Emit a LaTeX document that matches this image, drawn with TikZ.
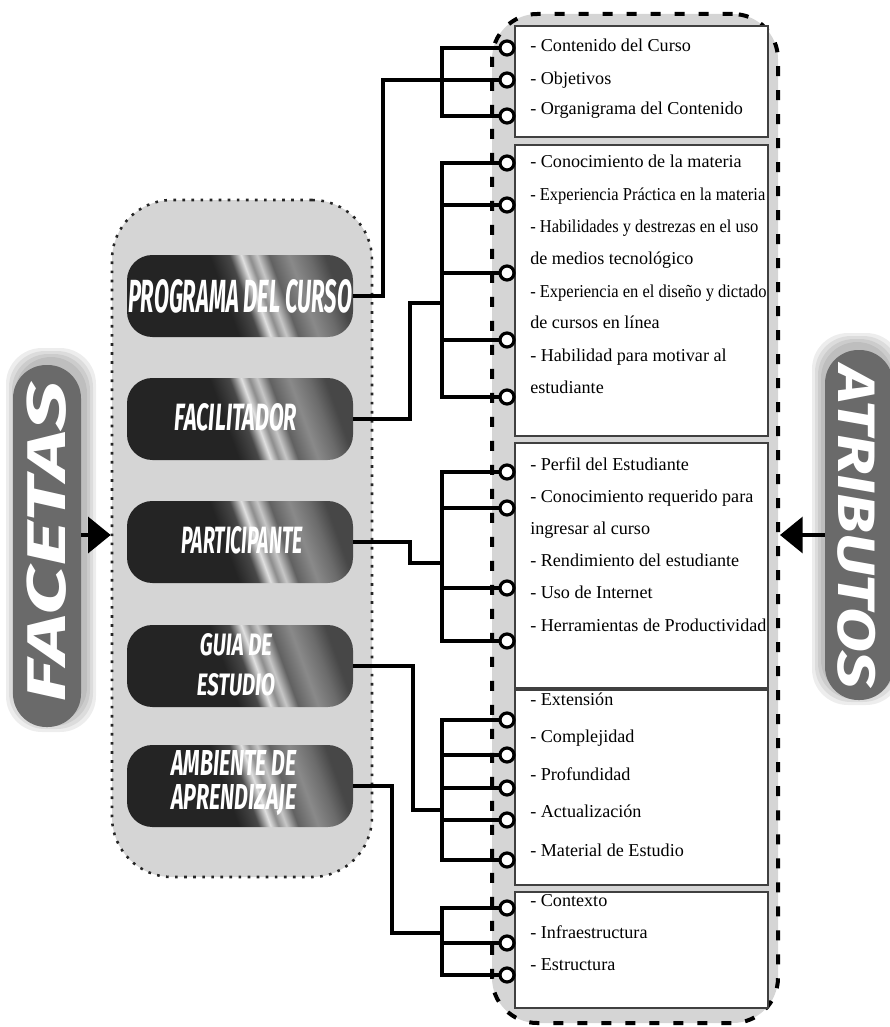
\documentclass[tikz,border=0pt]{standalone}
\usepackage{fontspec}
\setmainfont{Liberation Serif}
\newfontfamily\ttlfont{Fira Sans}
\usepackage{graphicx}
\usetikzlibrary{arrows.meta}
\definecolor{bgg}{HTML}{D5D5D5}
\definecolor{pdark}{HTML}{242424}
\definecolor{pillg}{HTML}{6A6A6A}
\pgfdeclarehorizontalshading{pillshade}{100bp}{color(0bp)=(pdark); color(46bp)=(pdark); color(51bp)=(black!72); color(54bp)=(black!12); color(56bp)=(black!45); color(58bp)=(black!22); color(61bp)=(black!62); color(66bp)=(black!46); color(71bp)=(black!58); color(75bp)=(black!72); color(100bp)=(black!72)}
\newcommand\ptxt[3]{\resizebox{#1}{#2}{\ttlfont\bfseries\itshape #3}}
\newcommand\sqz[1]{\scalebox{0.91}[1]{#1}}
\tikzset{
 grp/.style={fill=bgg, inner sep=0pt},
 lgrp/.style={grp, draw=black!85, line width=1.9pt, dash pattern=on 2pt off 4.8pt, rounded corners=45pt, minimum width=195pt, minimum height=507.75pt},
 rgrp/.style={grp, draw=black, line width=3pt, dash pattern=on 7.5pt off 10.5pt, rounded corners=34pt, minimum width=214.5pt, minimum height=756.75pt},
 wbox/.style={draw=black!75, line width=1.1pt, fill=white, inner sep=0pt, minimum width=189.75pt},
 itm/.style={anchor=west, inner sep=0pt, font=\fontsize{13.6pt}{16pt}\selectfont, text height=0.68em, text depth=0pt},
 pill/.style={shading=pillshade, shading angle=20, rounded corners=19pt, minimum width=169.5pt, minimum height=61.5pt, inner sep=0pt},
 ttl/.style={text=white, inner sep=0pt},
 circ/.style={circle, minimum size=10.5pt, inner sep=0pt},
 ring/.style={draw=black, line width=2.4pt, fill=white},
 br/.style={draw=black, line width=3pt},
 mc/.style={draw=black, line width=2.6pt},
 bigpill/.style={fill=pillg, rounded corners=25pt, minimum width=51pt, inner sep=0pt},
 arr/.style={line width=2.6pt, -{Triangle[length=17pt,width=27pt]}},
}
\begin{document}
\begin{tikzpicture}[x=0.75pt,y=-0.75pt]
\useasboundingbox (0,0) rectangle (889,1027);
% group backgrounds
\node[lgrp] (lrect) at (242,538.5) {};
\node[rgrp] (rrect) at (635,518.5) {};
% white boxes
\node[wbox, minimum height=83.25pt] (b1) at (641.5,81.5) {};
\node[wbox, minimum height=218.25pt] (b2) at (641.5,290.5) {};
\node[wbox, minimum height=183.75pt] (b3) at (641.5,565.5) {};
\node[wbox, minimum height=146.25pt] (b4) at (641.5,787.5) {};
\node[wbox, minimum height=87pt] (b5) at (641.5,950) {};
% items
\node[itm] (t11) at (530,47) {- Contenido del Curso};
\node[itm] (t12) at (530,80) {- Objetivos};
\node[itm] (t13) at (530,110) {- Organigrama del Contenido};
\node[itm] (t21) at (530,163) {- Conocimiento de la materia};
\node[itm] (t22) at (530,196) {\sqz{- Experiencia Práctica en la materia}};
\node[itm] (t23) at (530,228) {\sqz{- Habilidades y destrezas en el uso}};
\node[itm] (t24) at (530,260) {de medios tecnológico};
\node[itm] (t25) at (530,293) {\sqz{- Experiencia en el diseño y dictado}};
\node[itm] (t26) at (530,324) {de cursos en línea};
\node[itm] (t27) at (530,357) {- Habilidad para motivar al};
\node[itm] (t28) at (530,389) {estudiante};
\node[itm] (t31) at (530,466) {- Perfil del Estudiante};
\node[itm] (t32) at (530,498) {- Conocimiento requerido para};
\node[itm] (t33) at (530,530) {ingresar al curso};
\node[itm] (t34) at (530,562) {- Rendimiento del estudiante};
\node[itm] (t35) at (530,594) {- Uso de Internet};
\node[itm] (t36) at (530,627) {- Herramientas de Productividad};
\node[itm] (t41) at (530,701) {- Extensión};
\node[itm] (t42) at (530,738) {- Complejidad};
\node[itm] (t43) at (530,776) {- Profundidad};
\node[itm] (t44) at (530,813) {- Actualización};
\node[itm] (t45) at (530,852) {- Material de Estudio};
\node[itm] (t51) at (530,902) {- Contexto};
\node[itm] (t52) at (530,934) {- Infraestructura};
\node[itm] (t53) at (530,966) {- Estructura};
% facet pills
\node[pill] (prog) at (240,296) {};
\node[pill] (fac) at (240,419) {};
\node[pill] (part) at (240,542) {};
\node[pill] (guia) at (240,666) {};
\node[pill] (amb) at (240,786) {};
\node[ttl] (tprog) at (240,296) {\ptxt{168pt}{24.75pt}{PROGRAMA DEL CURSO}};
\node[ttl] (tfac) at (236,417) {\ptxt{91.5pt}{20.25pt}{FACILITADOR}};
\node[ttl] (tpart) at (242,540) {\ptxt{90.75pt}{20.25pt}{PARTICIPANTE}};
\node[ttl] (tguia1) at (236,645) {\ptxt{54pt}{16.5pt}{GUIA DE}};
\node[ttl] (tguia2) at (236,685) {\ptxt{58.5pt}{16.5pt}{ESTUDIO}};
\node[ttl] (tamb1) at (234,763) {\ptxt{93.75pt}{18.75pt}{AMBIENTE DE}};
\node[ttl] (tamb2) at (234,800) {\ptxt{93.75pt}{18.75pt}{APRENDIZAJE}};
% junction coordinates
\coordinate (k1) at (383,80);  \coordinate (s1) at (442,80);
\coordinate (k2) at (410,303); \coordinate (s2) at (442,303);
\coordinate (k3) at (410,563); \coordinate (s3) at (442,563);
\coordinate (k4) at (413,810); \coordinate (s4) at (442,810);
\coordinate (k5) at (392,933); \coordinate (s5) at (442,933);
% circle nodes (rings drawn after connectors)
\node[circ] (c11) at (507,48) {};
\node[circ] (c12) at (507,80) {};
\node[circ] (c13) at (507,116) {};
\node[circ] (c21) at (507,163) {};
\node[circ] (c22) at (507,205) {};
\node[circ] (c23) at (507,273) {};
\node[circ] (c24) at (507,340) {};
\node[circ] (c25) at (507,397) {};
\node[circ] (c31) at (507,472) {};
\node[circ] (c32) at (507,508) {};
\node[circ] (c33) at (507,588) {};
\node[circ] (c34) at (507,641) {};
\node[circ] (c41) at (507,720) {};
\node[circ] (c42) at (507,755) {};
\node[circ] (c43) at (507,788) {};
\node[circ] (c44) at (507,820) {};
\node[circ] (c45) at (507,860) {};
\node[circ] (c51) at (507,908) {};
\node[circ] (c52) at (507,943) {};
\node[circ] (c53) at (507,975) {};
% branches
\foreach \c/\s in {c11/s1,c12/s1,c13/s1,c21/s2,c22/s2,c23/s2,c24/s2,c25/s2,c31/s3,c32/s3,c33/s3,c34/s3,c41/s4,c42/s4,c43/s4,c44/s4,c45/s4,c51/s5,c52/s5,c53/s5}
  \draw[br] (\c.west) -| (\s);
% main connectors
\draw[mc] (prog.east) -| (k1) -- (s1);
\draw[mc] (fac.east) -| (k2) -- (s2);
\draw[mc] (part.east) -| (k3) -- (s3);
\draw[mc] (guia.east) -| (k4) -- (s4);
\draw[mc] (amb.east) -| (k5) -- (s5);
% rings
\foreach \c in {c11,c12,c13,c21,c22,c23,c24,c25,c31,c32,c33,c34,c41,c42,c43,c44,c45,c51,c52,c53}
  \path[ring] (\c.center) circle[radius=5.25pt];
% big pills with glow
\foreach \g in {2,5,8,11}
  \fill[black, opacity=0.07, rounded corners=27pt] (13-\g+4,365-\g-6) rectangle (81+\g+4,727+\g-6);
\foreach \g in {2,5,8,11}
  \fill[black, opacity=0.07, rounded corners=27pt] (825-\g-2,350-\g-6) rectangle (893+\g-2,700+\g-6);
\node[bigpill, minimum height=271.5pt] (facp) at (47,546) {};
\node[bigpill, minimum height=262.5pt] (atrp) at (859,525) {};
\node[ttl, rotate=90] (tfacetas) at (47,542) {\ptxt{240pt}{29pt}{FACETAS}};
\node[ttl, rotate=-90] (tatrib) at (857,527) {\ptxt{242pt}{28pt}{ATRIBUTOS}};
% arrows
\coordinate (ya) at (0,535);
\draw[arr] (facp.east |- ya) -- (lrect.west |- ya);
\draw[arr] (atrp.west |- ya) -- (rrect.east |- ya);
\end{tikzpicture}
\end{document}
